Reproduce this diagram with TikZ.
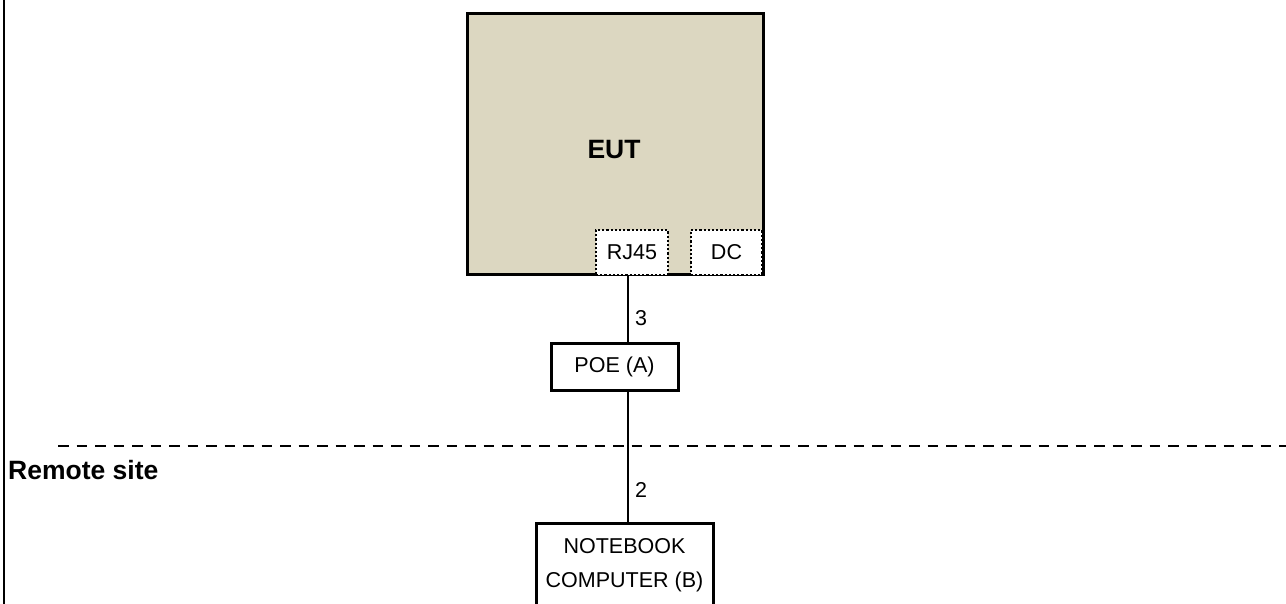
\documentclass[tikz,border=0pt]{standalone}
\usepackage{fontspec}
\setmainfont{Liberation Sans}
\definecolor{eutfill}{RGB}{220,215,193}
\begin{document}
\begin{tikzpicture}[x=1pt,y=-1pt,
  box/.style={draw, line width=3pt, fill=white, inner sep=0pt},
  port/.style={draw, dash pattern=on 2.2pt off 2pt, line width=2.4pt, fill=white, inner sep=0pt},
  wire/.style={line width=2pt},
  txt/.style={font=\fontsize{21.5}{34}\selectfont, inner sep=0pt},
  btxt/.style={font=\fontsize{26.5}{30}\selectfont\bfseries, inner sep=0pt}]
\useasboundingbox (0,0) rectangle (1286,604);
\draw[line width=1.7pt] (4,0) -- (4,604);
% EUT
\node[box, fill=eutfill, minimum width=296pt, minimum height=261pt] (eut) at (615,144.5) {};
\node[btxt] (euttxt) at (614,150) {EUT};
\node[port, minimum width=72pt, minimum height=45pt, txt] (rj) at (632,252.5) {RJ45};
\node[port, minimum width=71pt, minimum height=45pt, txt] (dc) at (726.5,252.5) {DC};
% POE
\node[box, minimum width=127pt, minimum height=47pt, txt] (poe) at (614.5,366.5) {POE (A)};
% Notebook
\node[box, minimum width=177pt, minimum height=100pt] (nb) at (624.5,573) {};
\node[txt, align=center] (nbtxt) at (624.5,565) {NOTEBOOK\\COMPUTER (B)};
% connectors
\draw[wire] (rj.south -| 628,0) -- node[txt, right=6pt, pos=0.64] (l3) {3} (poe.north -| 628,0);
\draw[wire] (poe.south -| 628,0) -- node[txt, right=6pt, pos=0.76] (l2) {2} (nb.north -| 628,0);
% site separator
\coordinate (dL) at (58,446);
\coordinate (dR) at (1286,446);
\draw[line width=2.2pt, dash pattern=on 10.5pt off 8pt] (dL) -- (dR);
\node[btxt, anchor=base west] (remote) at (8,479) {Remote site};
\end{tikzpicture}
\end{document}
